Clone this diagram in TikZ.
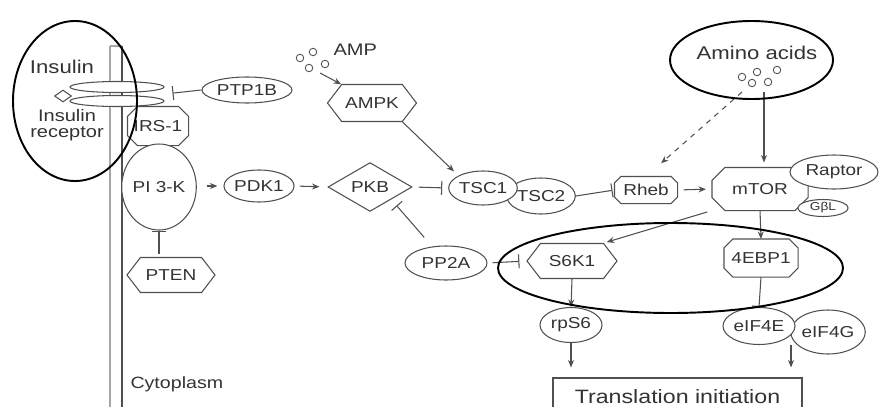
\documentclass[tikz,border=0pt]{standalone}
\usepackage{fontspec}
\setmainfont{Liberation Sans}[FakeStretch=1.2]
\usetikzlibrary{arrows.meta, calc, shapes.geometric, shapes.symbols}

\definecolor{linea}{HTML}{505050}
\definecolor{texto}{HTML}{333333}
\newcommand{\etiq}{\fontsize{9}{10}\selectfont}

\begin{document}
\begin{tikzpicture}[x=0.2mm, y=-0.2mm, >={Stealth[length=1.5mm, width=1.2mm]}, line width=0.6pt,
  caja/.style={draw=linea, fill=white, text=texto, inner sep=0pt, font=\etiq},
  elip/.style={caja, ellipse},
  octo/.style={caja, rectangle, draw=none, fill=none, append after command={
      \pgfextra{\pgfinterruptpath
        \draw[linea] ([xshift=#1]\tikzlastnode.north west) -- ([xshift=-#1]\tikzlastnode.north east)
          -- ([yshift=-#1]\tikzlastnode.north east) -- ([yshift=#1]\tikzlastnode.south east)
          -- ([xshift=-#1]\tikzlastnode.south east) -- ([xshift=#1]\tikzlastnode.south west)
          -- ([yshift=#1]\tikzlastnode.south west) -- ([yshift=-#1]\tikzlastnode.north west) -- cycle;
      \endpgfinterruptpath}}},
  hexa/.style={caja, signal, signal to=east and west, signal pointer angle=105},
  bolita/.style={circle, draw=linea, line width=0.5pt, minimum size=1.5mm, inner sep=0pt},
  rotulo/.style={text=texto, inner sep=0pt, font=\etiq},
  act/.style={->, draw=linea},
  inh/.style={-{Bar[width=2.8mm]}, draw=linea},
  marca/.style={draw=black, line width=1.1pt}]
  \useasboundingbox (0,0) rectangle (879,406);

  % ===== Membrana y receptor =====
  \draw[gray!70] (110,46) -- (110,410);
  \draw[linea] (122,46) -- (122,410);
  \draw[gray!70] (110,46) -- (122,46);
  \node[rotulo, font=\fontsize{10.5}{11}\selectfont] (insulina) at (62,67) {Insulin};
  \node[caja, diamond, minimum width=3.4mm, minimum height=2.4mm] (ligando) at (63,96) {};
  \node[elip, minimum width=18.8mm, minimum height=2.2mm] (rec1) at (117,87) {};
  \node[elip, minimum width=18.8mm, minimum height=2.2mm] (rec2) at (117,101) {};
  \node[rotulo, align=center, font=\fontsize{9.5}{9.3}\selectfont] (receptor) at (67,125) {Insulin\\receptor};
  \node[rotulo, anchor=west, font=\fontsize{9.3}{10}\selectfont] (citoplasma) at (130,384) {Cytoplasm};

  % ===== Via PI3K =====
  \node[elip, minimum width=18mm, minimum height=5.2mm] (ptp1b) at (247,90) {PTP1B};
  \node[octo=2mm, minimum width=12mm, minimum height=7.6mm] (irs1) at (158,126) {IRS-1};
  \node[elip, minimum width=13.6mm, minimum height=17.2mm] (pi3k) at (159,187) {PI 3-K};
  \node[elip, minimum width=11.6mm, minimum height=6.4mm] (pdk1) at (259,186) {PDK1};
  \node[hexa, minimum width=17.6mm, minimum height=7mm] (pten) at (171,275) {PTEN};
  \node[caja, diamond, minimum width=16.8mm, minimum height=9mm] (pkb) at (370,187) {PKB};
  \node[elip, minimum width=16.4mm, minimum height=6.8mm] (pp2a) at (446,263) {PP2A};

  % ===== AMP y AMPK =====
  \node[bolita] (amp1) at (300,58) {};
  \node[bolita] (amp2) at (313,52) {};
  \node[bolita] (amp3) at (309,68) {};
  \node[bolita] (amp4) at (325,64) {};
  \node[rotulo, anchor=west, font=\fontsize{9.5}{10}\selectfont] (amp) at (333,50) {AMP};
  \coordinate (ampsal) at (320,73);
  \node[hexa, minimum width=17.8mm, minimum height=7.4mm] (ampk) at (372,103) {AMPK};

  % ===== TSC, Rheb y mTOR =====
  \node[elip, minimum width=12.8mm, minimum height=7.2mm] (tsc2) at (541,196) {TSC2};
  \node[elip, minimum width=12mm, minimum height=6.8mm] (tsc1) at (483,188) {TSC1};
  \node[octo=1.3mm, minimum width=12.4mm, minimum height=5.2mm] (rheb) at (646,190) {Rheb};
  \node[octo=2.6mm, minimum width=19mm, minimum height=8.4mm] (mtor) at (760,189) {mTOR};
  \node[elip, minimum width=17.6mm, minimum height=6.8mm] (raptor) at (834,172) {Raptor};
  \node[elip, minimum width=10mm, minimum height=3.4mm, font=\fontsize{6.5}{7}\selectfont] (gbl) at (823,208) {GβL};

  % ===== Aminoacidos =====
  \node[rotulo, font=\fontsize{10.5}{11}\selectfont] (amino) at (757,53) {Amino acids};
  \node[bolita] (aa1) at (742,77) {};
  \node[bolita] (aa2) at (757,72) {};
  \node[bolita] (aa3) at (777,70) {};
  \node[bolita] (aa4) at (752,83) {};
  \node[bolita] (aa5) at (768,82) {};
  \coordinate (aasal1) at (742,92);
  \coordinate (aasal2) at (764,92);

  % ===== Efectores =====
  \node[hexa, minimum width=18mm, minimum height=7mm] (s6k1) at (572,261) {S6K1};
  \node[octo=1.8mm, minimum width=14.6mm, minimum height=7.4mm] (4ebp1) at (761,258) {4EBP1};
  \node[elip, minimum width=12.4mm, minimum height=7mm] (rps6) at (571,325) {rpS6};
  \node[elip, minimum width=13.2mm, minimum height=8.8mm] (eif4g) at (828,332) {eIF4G};
  \node[elip, minimum width=14.4mm, minimum height=7.4mm] (eif4e) at (759,326) {eIF4E};
  \coordinate (eifsal) at (791,345);
  \node[caja, rectangle, minimum width=49.8mm, minimum height=7.2mm, font=\fontsize{11}{12}\selectfont, text depth=0pt] (trad) at (677.5,396) {Translation initiation};

  % ===== Conexiones =====
  \draw[inh, shorten >=1.6mm] (ptp1b.west) -- ($(rec1.east)!0.5!(rec2.east)$);
  \draw[inh, shorten <=0.6mm] (pten.north -| pi3k.south) -- (pi3k.south);
  \draw[act, shorten <=2mm, shorten >=1.2mm] (pi3k.east |- pdk1) -- (pdk1.west);
  \draw[act, shorten <=1mm, shorten >=1.6mm] (pdk1.east) -- (pkb.west);
  \draw[act] (ampsal) -- (ampk.north west);
  \draw[act, shorten >=1.2mm] (ampk.south east) -- (tsc1.north west);
  \draw[inh, shorten <=1.2mm, shorten >=1.2mm] (pkb.east) -- (tsc1.west);
  \draw[inh, shorten <=2.4mm, shorten >=1.6mm] (pp2a.130) -- (pkb.south east);
  \draw[inh, shorten <=1mm, shorten >=1.4mm] (pp2a.east) -- (s6k1.west);
  \draw[inh, shorten >=0.4mm] (tsc2.east) -- (rheb.west);
  \draw[act, shorten <=1.2mm, shorten >=1.2mm] (rheb.east) -- (mtor.west);
  \draw[act, dashed, shorten >=4mm] (aasal1) -- (rheb.north);
  \draw[act, shorten >=1mm] (aasal2) -- (aasal2 |- mtor.north);
  \draw[act, shorten <=1mm, shorten >=0.6mm] (mtor.south west) -- (s6k1.north east);
  \draw[act] (mtor.south) -- (4ebp1.north);
  \draw[inh] (4ebp1.south) -- (eif4e.north);
  \draw[act] (s6k1.south) -- (rps6.north);
  \draw[act, shorten >=2mm] (rps6.south) -- (rps6.south |- trad.north);
  \draw[act, shorten >=2mm] (eifsal) -- (eifsal |- trad.north);

  % ===== Marcas =====
  \draw[marca] (75,101) ellipse [x radius=12.4mm, y radius=16mm];
  \draw[marca] (751.5,60) ellipse [x radius=16.3mm, y radius=7.8mm];
  \draw[marca] (670.5,268) ellipse [x radius=34.5mm, y radius=9mm];
\end{tikzpicture}
\end{document}
